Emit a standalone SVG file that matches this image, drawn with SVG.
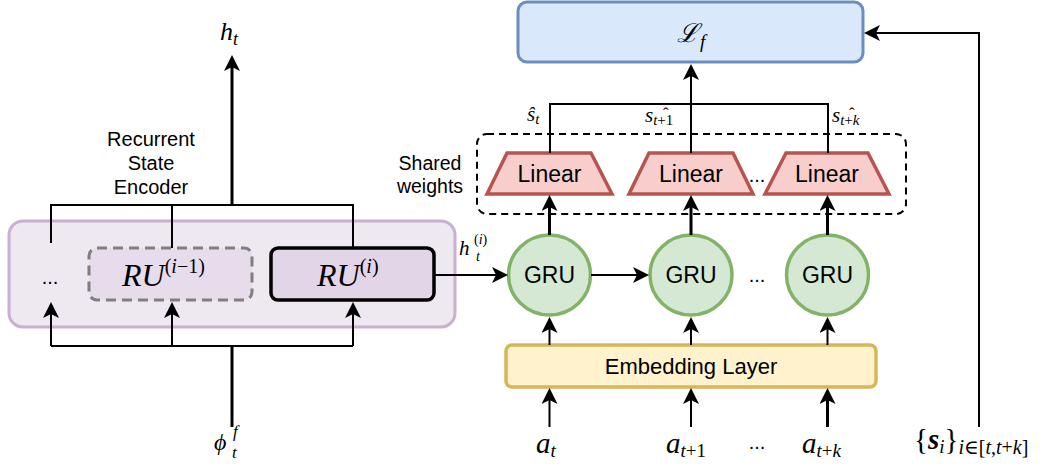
<svg xmlns="http://www.w3.org/2000/svg" width="1051" height="466" viewBox="0 0 1051 466">
  <style>
    .sans { font-family: "Liberation Sans", Arial, sans-serif; fill: #000; }
    .math { font-family: "Liberation Serif", "DejaVu Serif", serif; font-style: italic; fill: #000; }
    .mathup { font-family: "Liberation Serif", "DejaVu Serif", serif; fill: #000; }
    .wire { fill: none; stroke: #000; stroke-width: 2; }
    .thick { fill: none; stroke: #000; stroke-width: 3; }
    .arr { marker-end: url(#head); }
    .linear { fill: #F8CECC; stroke: #B85450; stroke-width: 3.5; stroke-linejoin: miter; }
    .gru { fill: #D5E8D4; stroke: #82B366; stroke-width: 3.5; }
  </style>
  <defs>
    <marker id="head" viewBox="0 0 16 16" refX="4" refY="8" markerWidth="16" markerHeight="16" markerUnits="userSpaceOnUse" orient="auto">
      <path d="M0,0 L16,8 L0,16 L4,8 z" fill="#000"/>
    </marker>
  </defs>

  <rect width="1051" height="466" fill="#fff"/>

  <!-- Recurrent state encoder container -->
  <g id="encoder">
    <rect x="9" y="221" width="446" height="106" rx="14" fill="#EEE8F1" stroke="#C6B1D3" stroke-width="3"/>
    <text class="sans" x="151" y="146" font-size="20" text-anchor="middle">Recurrent</text>
    <text class="sans" x="151" y="170" font-size="20" text-anchor="middle">State</text>
    <text class="sans" x="151" y="194" font-size="20" text-anchor="middle">Encoder</text>
    <text class="sans" x="50" y="284" font-size="20" text-anchor="middle">...</text>
  </g>

  <g id="ru-prev">
    <rect x="89" y="248" width="163" height="52" rx="8" fill="#E6DCEB" stroke="#7F7F7F" stroke-width="3" stroke-dasharray="10,6"/>
    <text class="math" x="122" y="286" font-size="32">RU<tspan font-size="20" dy="-13" font-style="normal">(</tspan><tspan font-size="20">i</tspan><tspan font-size="20" font-style="normal">−1)</tspan></text>
  </g>

  <g id="ru-cur">
    <rect x="271" y="248" width="163" height="52" rx="7" fill="#E1D5E7" stroke="#000" stroke-width="3.5"/>
    <text class="math" x="317" y="286" font-size="32">RU<tspan font-size="20" dy="-13" font-style="normal">(</tspan><tspan font-size="20">i</tspan><tspan font-size="20" font-style="normal">)</tspan></text>
  </g>

  <!-- Loss -->
  <g id="loss">
    <rect x="518" y="2" width="345" height="60" rx="9" fill="#DAE8FC" stroke="#6C8EBF" stroke-width="3"/>
    <text class="math" x="677" y="42" font-size="26">ℒ<tspan font-size="19" dx="1" dy="6">f</tspan></text>
  </g>

  <!-- Shared-weight output heads -->
  <g id="shared">
    <rect x="477" y="134" width="429" height="80" rx="10" fill="none" stroke="#000" stroke-width="2" stroke-dasharray="7,5"/>
    <text class="sans" x="430" y="170" font-size="19.5" text-anchor="middle">Shared</text>
    <text class="sans" x="430" y="193" font-size="19.5" text-anchor="middle">weights</text>
  </g>

  <g id="linear1">
    <polygon class="linear" points="507,153 591,153 612,194 487,194"/>
    <text class="sans" x="549.5" y="182" font-size="23" text-anchor="middle">Linear</text>
  </g>
  <g id="linear2">
    <polygon class="linear" points="649,153 733,153 753,194 629,194"/>
    <text class="sans" x="691" y="182" font-size="23" text-anchor="middle">Linear</text>
  </g>
  <g id="linear3">
    <polygon class="linear" points="786,153 868,153 889,194 765,194"/>
    <text class="sans" x="827" y="182" font-size="23" text-anchor="middle">Linear</text>
  </g>
  <text class="sans" x="757" y="182" font-size="20" text-anchor="middle">...</text>

  <!-- Recurrent decoder cells -->
  <g id="gru1">
    <ellipse class="gru" cx="549.5" cy="275" rx="41" ry="40"/>
    <text class="sans" x="549.5" y="283" font-size="23" text-anchor="middle">GRU</text>
  </g>
  <g id="gru2">
    <ellipse class="gru" cx="691" cy="275" rx="41" ry="40"/>
    <text class="sans" x="691" y="283" font-size="23" text-anchor="middle">GRU</text>
  </g>
  <g id="gru3">
    <ellipse class="gru" cx="827.5" cy="275" rx="41" ry="40"/>
    <text class="sans" x="827.5" y="283" font-size="23" text-anchor="middle">GRU</text>
  </g>
  <text class="sans" x="757" y="282" font-size="20" text-anchor="middle">...</text>

  <g id="embedding">
    <rect x="506" y="345" width="370" height="42" rx="6" fill="#FFF2CC" stroke="#D6B656" stroke-width="3.5"/>
    <text class="sans" x="691" y="374" font-size="22" text-anchor="middle">Embedding Layer</text>
  </g>

  <!-- Connectors -->
  <g id="connectors">
    <!-- encoder output -->
    <path class="wire" d="M51,243 V205 H353 V248 M172,205 V248"/>
    <path class="thick arr" d="M232,205 V67"/>
    <!-- encoder input -->
    <path class="thick" d="M232,427 V346"/>
    <path class="wire" d="M51,346 H353"/>
    <path class="wire arr" d="M51,346 V314"/>
    <path class="wire arr" d="M172,346 V314"/>
    <path class="wire arr" d="M353,346 V314"/>
    <!-- hidden state into decoder -->
    <path class="wire arr" d="M434,275 H496"/>
    <path class="wire arr" d="M591,275 H637"/>
    <!-- GRU to Linear -->
    <path class="thick arr" d="M549.5,235 V207"/>
    <path class="thick arr" d="M691,235 V207"/>
    <path class="thick arr" d="M827.5,235 V207"/>
    <!-- Embedding to GRU -->
    <path class="wire arr" d="M549.5,345 V329"/>
    <path class="wire arr" d="M691,345 V329"/>
    <path class="wire arr" d="M827.5,345 V329"/>
    <!-- actions to Embedding -->
    <path class="wire arr" d="M549.5,427 V400" stroke-width="2.5"/>
    <path class="wire arr" d="M691,427 V400" stroke-width="2.5"/>
    <path class="thick arr" d="M827.5,427 V400"/>
    <!-- predictions to loss -->
    <path class="wire" d="M550,153 V104 H828 V153"/>
    <path class="wire arr" d="M691,153 V76" stroke-width="2.5"/>
    <!-- targets to loss -->
    <path class="wire arr" d="M979,427 V33 H876"/>
  </g>

  <!-- Math labels -->
  <g id="labels">
    <text class="math" x="220" y="40" font-size="26">h<tspan font-size="18" dy="5">t</tspan></text>
    <text class="math" x="214" y="450" font-size="24">ϕ</text>
    <text class="math" x="233" y="437" font-size="17">f</text>
    <text class="math" x="232" y="458" font-size="17">t</text>
    <text class="math" x="459" y="255" font-size="21">h</text>
    <text class="math" x="476" y="261" font-size="14">t</text>
    <text class="mathup" x="474" y="244" font-size="14">(<tspan font-style="italic">i</tspan>)</text>

    <text class="math" x="527" y="121" font-size="21">ŝ<tspan font-size="15" dy="3">t</tspan></text>
    <text class="math" x="645" y="122" font-size="21">s<tspan font-size="15" dy="3">t</tspan><tspan font-size="15" font-style="normal">+1</tspan><tspan x="663" y="119" font-size="17" font-style="normal">ˆ</tspan></text>
    <text class="math" x="832" y="122" font-size="21">s<tspan font-size="15" dy="3">t</tspan><tspan font-size="15" font-style="normal">+</tspan><tspan font-size="15">k</tspan><tspan x="849" y="119" font-size="17" font-style="normal">ˆ</tspan></text>

    <text class="math" x="536" y="453" font-size="29">a<tspan font-size="19" dy="4">t</tspan></text>
    <text class="math" x="666" y="453" font-size="29">a<tspan font-size="19" dy="4">t</tspan><tspan font-size="19" font-style="normal">+1</tspan></text>
    <text class="sans" x="757" y="449" font-size="20" text-anchor="middle">...</text>
    <text class="math" x="802" y="453" font-size="29">a<tspan font-size="19" dy="4">t</tspan><tspan font-size="19" font-style="normal">+</tspan><tspan font-size="19">k</tspan></text>

    <text class="mathup" x="914" y="449" font-size="29">{<tspan font-style="italic" font-weight="bold">s</tspan><tspan font-size="19" font-style="italic" dy="4">i</tspan><tspan dy="-4">}</tspan><tspan font-size="20" dy="5"><tspan font-style="italic">i</tspan>∈[<tspan font-style="italic">t</tspan>,<tspan font-style="italic">t</tspan>+<tspan font-style="italic">k</tspan>]</tspan></text>
  </g>
</svg>
